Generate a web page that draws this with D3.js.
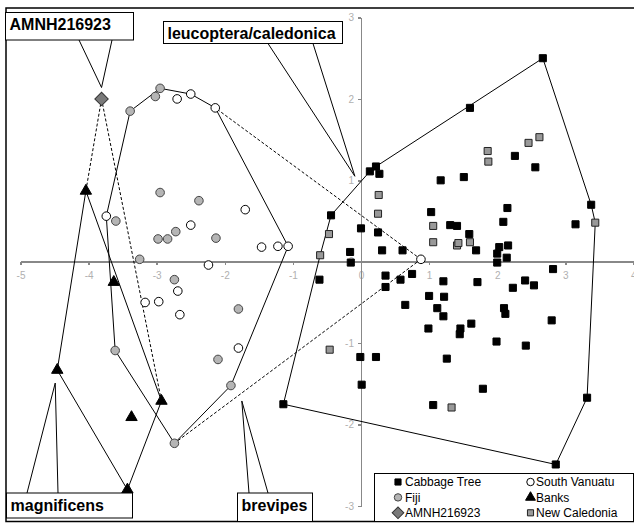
<!DOCTYPE html>
<html lang="en">
<head>
<meta charset="utf-8">
<title>Canonical scores</title>
<script src="https://d3js.org/d3.v7.min.js"></script>
<style>
body { margin: 0; background: #fff; }
.axis path, .axis line { stroke: #888; stroke-width: 1.6; shape-rendering: crispEdges; }
.axis text { fill: #b0b0b0; font: 10px Arial, "Liberation Sans", sans-serif; }
.callout text { font: bold 16px Arial, "Liberation Sans", sans-serif; fill: #000; }
.legend text { font: 12px Arial, "Liberation Sans", sans-serif; fill: #000; }
</style>
</head>
<body>
<svg id="chart" width="634" height="523"></svg>
<script>

// scores (axis 1, axis 2)
var cabbageTree = [
  [-0.44,0.57],[0.13,1.11],[0.22,1.17],[0.27,1.08],[1.60,1.89],[2.67,2.50],
  [1.17,1.00],[1.51,1.04],[2.26,1.30],[2.56,1.16],[3.38,0.70],[3.15,0.46],
  [0.00,0.41],[0.25,0.36],[1.03,0.61],[1.31,0.45],[1.41,0.44],[1.59,0.34],
  [1.69,0.14],[2.15,0.66],[2.09,0.49],[2.16,0.20],[2.03,0.18],[2.00,0.10],
  [2.00,-0.01],[2.14,0.05],[0.31,0.14],[0.61,0.14],[-0.16,0.12],[-0.15,-0.01],
  [2.82,-0.09],[-0.61,-0.22],[0.36,-0.17],[0.36,-0.31],[0.58,-0.22],[0.75,-0.15],
  [1.21,-0.24],[1.00,-0.42],[1.22,-0.43],[0.65,-0.53],[1.12,-0.57],[1.21,-0.67],
  [0.99,-0.82],[1.46,-0.82],[1.45,-0.89],[1.62,-0.76],[1.71,-0.25],[2.23,-0.32],
  [2.41,-0.23],[2.54,-0.29],[2.10,-0.57],[2.12,-0.64],[2.80,-0.72],[1.99,-0.98],
  [2.42,-1.03],[-0.01,-1.17],[0.22,-1.17],[1.26,-1.19],[0.01,-1.51],[1.79,-1.56],
  [1.06,-1.76],[3.32,-1.67],[2.86,-2.49],[-1.14,-1.75]
];
var newCaledonia = [
  [-0.60,0.08],[-0.47,0.34],[0.26,0.82],[0.25,0.59],[1.06,0.44],[1.06,0.24],
  [1.41,0.20],[1.43,0.23],[1.60,0.24],[1.86,1.36],[1.87,1.23],[2.46,1.46],
  [2.62,1.53],[3.44,0.48],[-0.46,-1.08],[1.33,-1.79]
];
var fiji = [
  [-3.39,1.85],[-3.02,2.03],[-2.95,2.13],[-2.95,0.85],[-2.38,0.75],[-3.60,0.50],
  [-2.98,0.28],[-2.84,0.28],[-2.72,0.37],[-2.13,0.29],[-3.25,0.03],[-2.74,-0.22],
  [-1.80,-0.58],[-3.61,-1.09],[-2.10,-1.20],[-1.91,-1.52],[-2.74,-2.23]
];
var southVanuatu = [
  [-2.70,2.00],[-2.50,2.06],[-2.14,1.89],[-3.74,0.56],[-2.50,0.45],[-1.70,0.64],
  [-1.46,0.18],[-1.22,0.19],[-1.07,0.19],[-2.24,-0.04],[-2.69,-0.36],[-3.17,-0.50],
  [-2.97,-0.49],[-2.66,-0.65],[-1.80,-1.06]
];
var southVanuatuOutlier = [0.88,0.03];
var banks = [
  [-4.04,0.87],[-3.63,-0.25],[-4.46,-1.33],[-2.93,-1.71],[-3.37,-1.91],[-3.43,-2.80]
];
var amnh = [[-3.81,2.00]];

var xTicks = [-5,-4,-3,-2,-1,0,1,2,3,4];
var yTicks = [-3,-2,-1,0,1,2,3];

// dashed links from the odd birds to their nearest hull corners
var dashedLinks = [
  [southVanuatuOutlier, southVanuatu[2]],
  [southVanuatuOutlier, fiji[16]],
  [amnh[0], banks[0]],
  [amnh[0], banks[3]]
];

var callouts = [
  {label: "AMNH216923", tip: [-3.81,2.14], box: [5,12,133,39.5], base: [79,112]},
  {label: "leucoptera/caledonica", tip: [-0.09,1.05], box: [163,21,342,43], base: [268,313]},
  {label: "magnificens", tip: [-4.49,-1.49], box: [6,492.5,132,517.5], base: [27,58]},
  {label: "brevipes", tip: [-1.75,-1.71], box: [237,492.5,312,521], base: [249,268]}
];

var legendItems = [
  {name: "Cabbage Tree", type: "blackSquare"},
  {name: "South Vanuatu", type: "openCircle"},
  {name: "Fiji", type: "grayCircle"},
  {name: "Banks", type: "triangle"},
  {name: "AMNH216923", type: "diamond"},
  {name: "New Caledonia", type: "graySquare"}
];

var svg = d3.select("#chart");

var x = d3.scaleLinear().domain([-5, 4]).range([20.5, 633.4]);
var y = d3.scaleLinear().domain([-3, 3]).range([506, 17.5]);

//outer frame
svg.append("rect")
  .attr("x", 6).attr("y", 8)
  .attr("width", 640).attr("height", 513.5)
  .attr("fill", "#fff")
  .attr("stroke", "#000")
  .attr("stroke-width", 1.5);

//axes through the origin
var plain = function(d) { return String(d); };

svg.append("g")
  .attr("class", "axis")
  .attr("transform", "translate(0," + y(0) + ")")
  .call(d3.axisBottom(x).tickValues(xTicks).tickFormat(plain)
    .tickSize(3).tickSizeOuter(0).tickPadding(7));

svg.append("g")
  .attr("class", "axis")
  .attr("transform", "translate(" + x(0) + ",0)")
  .call(d3.axisLeft(y).tickValues(yTicks).tickFormat(plain)
    .tickSize(3).tickSizeOuter(0).tickPadding(4));

svg.selectAll(".axis text").attr("fill", "#b0b0b0");

function px(d) { return [x(d[0]), y(d[1])]; }

function closedPath(pts) {
  return "M" + pts.map(function(p) { return p[0] + "," + p[1]; }).join("L") + "Z";
}

// hulls: leucoptera/caledonica, brevipes (Fiji + S. Vanuatu), magnificens (Banks)
var hulls = [
  cabbageTree.concat(newCaledonia),
  fiji.concat(southVanuatu),
  banks
];
svg.append("g").selectAll("path")
  .data(hulls).enter()
  .append("path")
  .attr("d", function(d) { return closedPath(d3.polygonHull(d.map(px))); })
  .attr("fill", "none")
  .attr("stroke", "#000")
  .attr("stroke-width", 1);

svg.append("g").selectAll("line")
  .data(dashedLinks).enter()
  .append("line")
  .attr("x1", function(d) { return x(d[0][0]); })
  .attr("y1", function(d) { return y(d[0][1]); })
  .attr("x2", function(d) { return x(d[1][0]); })
  .attr("y2", function(d) { return y(d[1][1]); })
  .attr("stroke", "#000")
  .attr("stroke-width", 1)
  .attr("stroke-dasharray", "3,2");

//marker styles
var styles = {
  blackSquare: {shape: d3.symbolSquare, size: 50, fill: "#000", stroke: "#000", rot: 0},
  graySquare: {shape: d3.symbolSquare, size: 50, fill: "#999", stroke: "#222", rot: 0},
  grayCircle: {shape: d3.symbolCircle, size: 58, fill: "#b5b5b5", stroke: "#444", rot: 0},
  openCircle: {shape: d3.symbolCircle, size: 58, fill: "#fff", stroke: "#000", rot: 0},
  triangle: {shape: d3.symbolTriangle, size: 56, fill: "#000", stroke: "#000", rot: 0},
  diamond: {shape: d3.symbolSquare, size: 90, fill: "#7a7a7a", stroke: "#333", rot: 45}
};

function drawSeries(data, type) {
  var s = styles[type];
  svg.append("g").selectAll("path")
    .data(data).enter()
    .append("path")
    .attr("d", d3.symbol().type(s.shape).size(s.size))
    .attr("transform", function(d) {
      return "translate(" + x(d[0]) + "," + y(d[1]) + ") rotate(" + s.rot + ")";
    })
    .attr("fill", s.fill)
    .attr("stroke", s.stroke)
    .attr("stroke-width", 1);
}

drawSeries(cabbageTree, "blackSquare");
drawSeries(southVanuatu.concat([southVanuatuOutlier]), "openCircle");
drawSeries(fiji, "grayCircle");
drawSeries(banks, "triangle");
drawSeries(amnh, "diamond");
drawSeries(newCaledonia, "graySquare");

//callout boxes with two pointer lines
var co = svg.append("g").attr("class", "callout")
  .selectAll("g")
  .data(callouts).enter()
  .append("g");

co.append("rect")
  .attr("x", function(d) { return d.box[0] + 0.5; })
  .attr("y", function(d) { return d.box[1] + 0.5; })
  .attr("width", function(d) { return d.box[2] - d.box[0]; })
  .attr("height", function(d) { return d.box[3] - d.box[1]; })
  .attr("fill", "#fff")
  .attr("stroke", "#000")
  .attr("stroke-width", 1);

co.append("text")
  .attr("x", function(d) { return d.box[0] + 4.5; })
  .attr("y", function(d) { return d.box[1] + 18; })
  .text(function(d) { return d.label; });

co.append("path")
  .attr("d", function(d) {
    var tx = x(d.tip[0]), ty = y(d.tip[1]);
    var by = d.tip[1] > 0 ? d.box[3] + 0.5 : d.box[1] + 0.5;
    return "M" + d.base[0] + "," + by + "L" + tx + "," + ty + "L" + d.base[1] + "," + by;
  })
  .attr("fill", "none")
  .attr("stroke", "#000")
  .attr("stroke-width", 1);

//legend
var legend = svg.append("g").attr("class", "legend");
legend.append("rect")
  .attr("x", 374.5).attr("y", 473.5)
  .attr("width", 259).attr("height", 48)
  .attr("fill", "#fff")
  .attr("stroke", "#000")
  .attr("stroke-width", 1);

var li = legend.selectAll("g.item")
  .data(legendItems).enter()
  .append("g")
  .attr("class", "item")
  .attr("transform", function(d, i) {
    var col = i % 2, row = Math.floor(i / 2);
    return "translate(" + (col ? 530.5 : 398) + "," + (482 + row * 15.4) + ")";
  });

li.append("path")
  .attr("d", function(d) {
    var s = styles[d.type];
    return d3.symbol().type(s.shape).size(s.size * 0.75)();
  })
  .attr("transform", function(d) { return "rotate(" + styles[d.type].rot + ")"; })
  .attr("fill", function(d) { return styles[d.type].fill; })
  .attr("stroke", function(d) { return styles[d.type].stroke; })
  .attr("stroke-width", 1);

li.append("text")
  .attr("x", function(d, i) { return i % 2 ? 5.5 : 7; })
  .attr("dy", "0.36em")
  .text(function(d) { return d.name; });

</script>
</body>
</html>
